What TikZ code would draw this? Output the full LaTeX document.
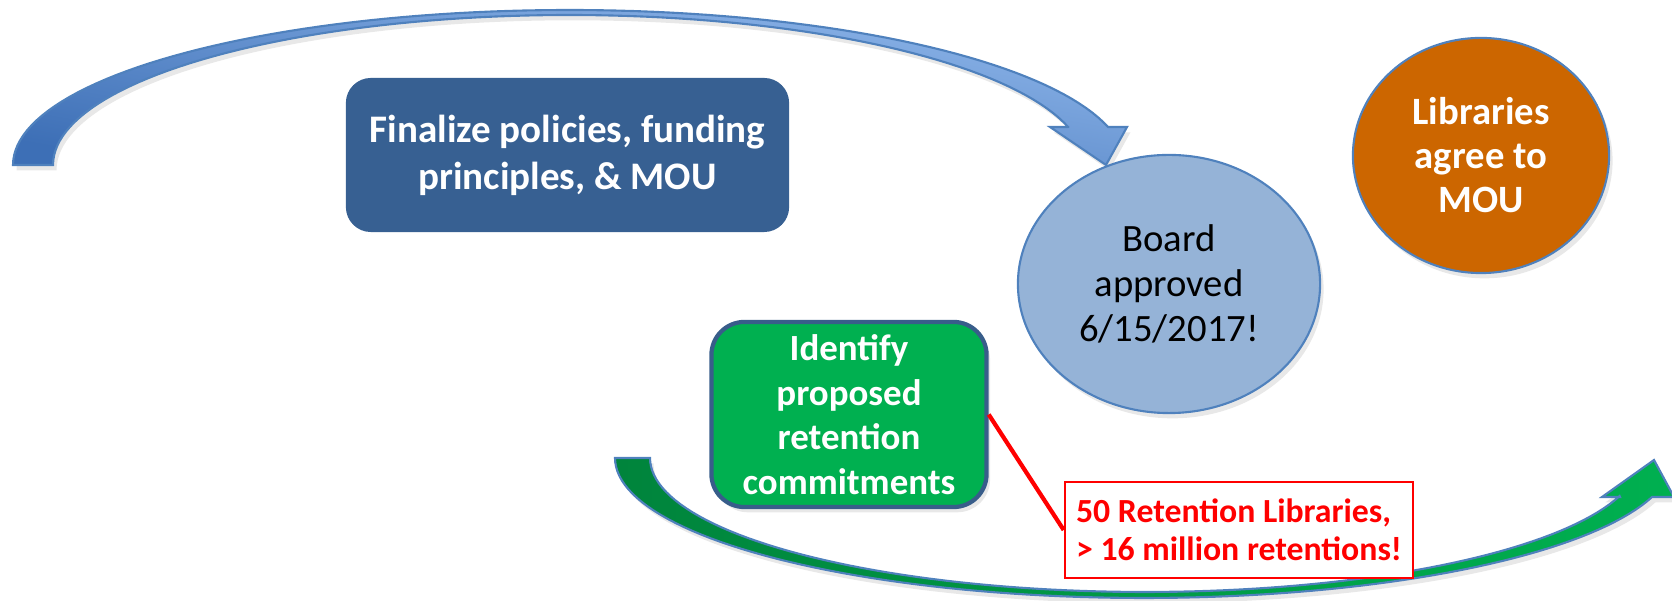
\documentclass[tikz,border=0pt]{standalone}
\usepackage{fontspec}
\setmainfont{Carlito}
\usepackage{tikz}
\usetikzlibrary{shapes.geometric,shadows}
\definecolor{navyfill}{HTML}{376092}
\definecolor{accblue}{HTML}{4F81BD}
\definecolor{paleblue}{HTML}{95B3D7}
\definecolor{burnt}{HTML}{CC6600}
\definecolor{brightgreen}{HTML}{00B050}
\definecolor{deepgreen}{HTML}{00843C}
\definecolor{boxedge}{HTML}{385D8A}
\definecolor{arrowlight}{HTML}{8EB6EA}
\definecolor{arrowdark}{HTML}{3D6FB6}
\tikzset{
    softshadow/.style={drop shadow={shadow xshift=1pt,shadow yshift=-1.5pt,opacity=0.18}},
    bluearrow/.style={draw=accblue,line width=0.6pt,top color=arrowlight,bottom color=arrowdark,shading angle=-10,softshadow},
    greenarrow/.style={draw=accblue,line width=0.6pt,left color=deepgreen,right color=brightgreen,softshadow},
    policybox/.style={rectangle,rounded corners=0.25cm,fill=navyfill,text=white,align=center,minimum width=4.43cm,minimum height=1.54cm,inner sep=0,font=\fontsize{11.1}{13.4}\selectfont\bfseries},
    boardoval/.style={ellipse,draw=accblue,line width=0.6pt,fill=paleblue,align=center,minimum width=3.02cm,minimum height=2.58cm,inner sep=0,softshadow,font=\fontsize{11}{12.9}\selectfont},
    agreeoval/.style={ellipse,draw=accblue,line width=0.6pt,fill=burnt,text=white,align=center,minimum width=2.56cm,minimum height=2.35cm,inner sep=0,softshadow,font=\fontsize{11}{12.5}\selectfont\bfseries},
    retainbox/.style={rectangle,rounded corners=0.33cm,draw=boxedge,line width=1.2pt,fill=brightgreen,text=white,align=center,minimum width=2.75cm,minimum height=1.85cm,inner sep=0,softshadow,font=\fontsize{10.5}{12.7}\selectfont\bfseries},
    notebox/.style={rectangle,draw=red,line width=0.7pt,fill=white,text=red,align=left,minimum width=3.48cm,minimum height=0.96cm,inner sep=0,font=\fontsize{9.6}{10.8}\selectfont\bfseries},
    calloutline/.style={red,line width=1.2pt}
}

\begin{document}
\begin{tikzpicture}[x=0.01cm,y=-0.01cm]
\useasboundingbox (0,0) rectangle (1672,601);
\path[bluearrow] plot[domain=180:345.8,samples=90,variable=\t]({569+556*cos(\t)},{165+155*sin(\t)})
    -- (1127,127) -- (1106,165) -- (1050,127) -- (1068,127)
    -- plot[domain=345.3:180,samples=90,variable=\t]({569+516*cos(\t)},{165+150*sin(\t)}) -- cycle;
\path[greenarrow] plot[domain=180:16.2,samples=90,variable=\t]({1144+529*cos(\t)},{458+140*sin(\t)})
    -- (1674,497) -- (1654,460) -- (1602,497) -- (1620,497)
    -- plot[domain=16.5:180,samples=90,variable=\t]({1145+495*cos(\t)},{458+134*sin(\t)}) -- cycle;
\node[policybox] (policies) at (567.5,155) {Finalize policies, funding\\principles, \& MOU};
\node[boardoval] (board) at (1169,284) {Board\\approved\\6/15/2017!};
\node[agreeoval] (agree) at (1481,155.5) {Libraries\\agree to\\MOU};
\node[retainbox] (identify) at (849,414.5) {Identify\\proposed\\retention\\commitments};
\node[notebox] (note) at (1239,530) {50 Retention Libraries,\\> 16 million retentions!};
\draw[calloutline] (identify.east) -- (note.west);
\end{tikzpicture}
\end{document}
